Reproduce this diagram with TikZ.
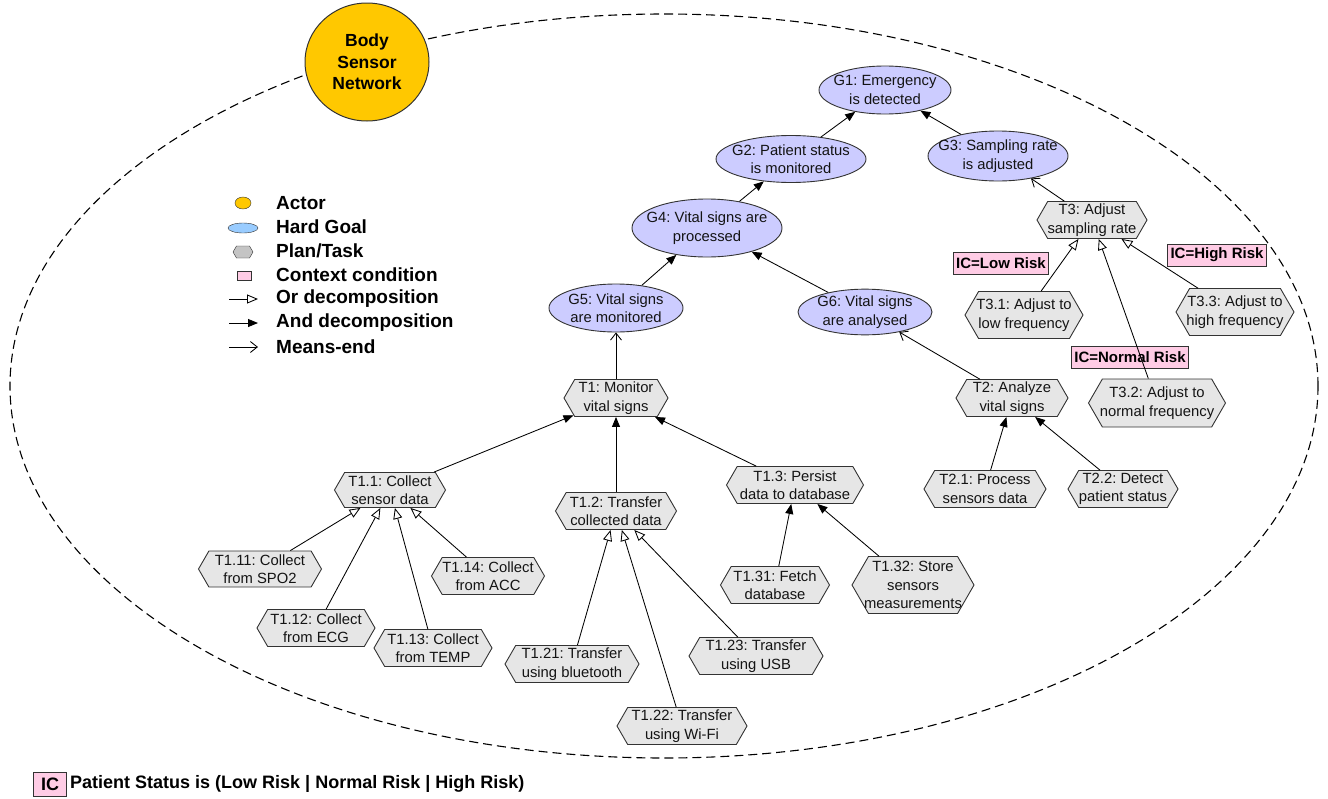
\documentclass[tikz,border=0pt]{standalone}
\usepackage{fontspec}
\setmainfont{Liberation Sans}
\usetikzlibrary{shapes.geometric,shapes.symbols,arrows.meta}
\frenchspacing

\definecolor{actorfill}{HTML}{FFC800}
\definecolor{goalfill}{HTML}{CCCCFF}
\definecolor{goalkey}{HTML}{99CCFF}
\definecolor{taskfill}{HTML}{E6E6E6}
\definecolor{taskkey}{HTML}{C4C4C4}
\definecolor{ctxfill}{HTML}{FFCCE5}
\definecolor{edgegray}{HTML}{333333}

% centred lines that do not widen the node: the shape size is set explicitly
\newcommand{\twoln}[2]{\makebox[0pt]{#1}\\\makebox[0pt]{#2}}
\newcommand{\threeln}[3]{\makebox[0pt]{#1}\\\makebox[0pt]{#2}\\\makebox[0pt]{#3}}

\tikzset{
  lbl/.style={font=\fontsize{14.8}{18.5}\selectfont, align=center, text=black!92},
  goal/.style={lbl, ellipse, draw=edgegray, line width=0.9pt, fill=goalfill, inner sep=0pt},
  task/.style={lbl, signal, signal to=west and east, signal pointer angle=120,
    draw=edgegray, line width=0.9pt, fill=taskfill, inner sep=0pt, minimum height=37pt},
  ctx/.style={font=\bfseries\fontsize{15}{18}\selectfont, draw=edgegray, line width=0.9pt,
    fill=ctxfill, inner xsep=3pt, inner ysep=0pt, minimum height=22pt},
  andlink/.style={draw, line width=0.85pt, -{Triangle[length=10pt,width=8pt]}},
  orlink/.style={draw, line width=0.85pt, -{Triangle[open,length=11pt,width=9pt,fill=white]}},
  meanslink/.style={draw, line width=0.85pt, -{Straight Barb[length=7pt,width=11pt]}},
  keytext/.style={font=\bfseries\fontsize{19}{22}\selectfont, anchor=west, inner sep=0pt},
}

\begin{document}
\begin{tikzpicture}[x=1pt, y=-1pt]
\path[use as bounding box] (0,0) rectangle (1328,798);

% actor boundary
\draw[dashed, dash pattern=on 9pt off 5pt, line width=1.1pt]
  (664,386) ellipse [x radius=654pt, y radius=372pt];

% actor
\node[ellipse, draw=edgegray, line width=1pt, fill=actorfill, inner sep=0pt,
  minimum width=124pt, minimum height=118pt, align=center,
  font=\bfseries\fontsize{17.5}{21.5}\selectfont] (actor) at (367,62)
  {\threeln{Body}{Sensor}{Network}};

% legend
\node[ellipse, draw=edgegray, fill=actorfill, minimum width=16pt, minimum height=12pt, inner sep=0pt] (kactor) at (243,203) {};
\node[keytext] (kactortxt) at (276,203) {Actor};
\node[ellipse, draw=edgegray, fill=goalkey, minimum width=30pt, minimum height=10pt, inner sep=0pt] (kgoal) at (243,228) {};
\node[keytext] (kgoaltxt) at (276,227) {Hard Goal};
\node[signal, signal to=west and east, signal pointer angle=120, draw=edgegray, fill=taskkey,
  minimum width=20pt, minimum height=12pt, inner sep=0pt] (ktask) at (243,252) {};
\node[keytext] (ktasktxt) at (276,251) {Plan/Task};
\node[draw=edgegray, fill=ctxfill, minimum width=14pt, minimum height=9pt, inner sep=0pt] (kctx) at (244,276) {};
\node[keytext] (kctxtxt) at (276,275) {Context condition};
\coordinate (kor1) at (229,299); \coordinate (kor2) at (258,299);
\node[keytext] (kortxt) at (276,299) {Or decomposition};
\coordinate (kand1) at (229,323); \coordinate (kand2) at (258,323);
\node[keytext] (kandtxt) at (276,323) {And decomposition};
\coordinate (kme1) at (229,347); \coordinate (kme2) at (258,347);
\node[keytext] (kmetxt) at (276,347) {Means-end};
\draw[orlink] (kor1) -- (kor2);
\draw[andlink] (kand1) -- (kand2);
\draw[meanslink] (kme1) -- (kme2);

% goals
\node[goal, minimum width=132pt, minimum height=48pt] (g1) at (885,90) {\twoln{G1: Emergency}{is detected}};
\node[goal, minimum width=150pt, minimum height=47pt] (g2) at (791,159) {\twoln{G2: Patient status}{is monitored}};
\node[goal, minimum width=140pt, minimum height=50pt] (g3) at (998,156) {\twoln{G3: Sampling rate}{is adjusted}};
\node[goal, minimum width=150pt, minimum height=58pt] (g4) at (707,228) {\twoln{G4: Vital signs are}{processed}};
\node[goal, minimum width=134pt, minimum height=48pt] (g5) at (616,308) {\twoln{G5: Vital signs}{are monitored}};
\node[goal, minimum width=134pt, minimum height=44pt] (g6) at (865,312) {\twoln{G6: Vital signs}{are analysed}};

% tasks
\node[task, minimum width=104pt] (t1) at (616,398) {\twoln{T1: Monitor}{vital signs}};
\node[task, minimum width=111pt, minimum height=35pt] (t11) at (390,490) {\twoln{T1.1: Collect}{sensor data}};
\node[task, minimum width=121pt] (t12) at (616,511) {\twoln{T1.2: Transfer}{collected data}};
\node[task, minimum width=137pt] (t13) at (795,485) {\twoln{T1.3: Persist}{data to database}};
\node[task, minimum width=123pt, minimum height=36pt] (t111) at (260,569) {\twoln{T1.11: Collect}{from SPO2}};
\node[task, minimum width=118pt] (t112) at (316,628) {\twoln{T1.12: Collect}{from ECG}};
\node[task, minimum width=118pt] (t113) at (433,648) {\twoln{T1.13: Collect}{from TEMP}};
\node[task, minimum width=113pt] (t114) at (488,576) {\twoln{T1.14: Collect}{from ACC}};
\node[task, minimum width=134pt] (t121) at (572,664) {\twoln{T1.21: Transfer}{using bluetooth}};
\node[task, minimum width=130pt] (t122) at (682,726) {\twoln{T1.22: Transfer}{using Wi-Fi}};
\node[task, minimum width=134pt] (t123) at (756,656) {\twoln{T1.23: Transfer}{using USB}};
\node[task, minimum width=109pt] (t131) at (775,585) {\twoln{T1.31: Fetch}{database}};
\node[task, minimum width=122pt, minimum height=57pt] (t132) at (913,585) {\threeln{T1.32: Store}{sensors}{measurements}};
\node[task, minimum width=112pt] (t2) at (1012,398) {\twoln{T2: Analyze}{vital signs}};
\node[task, minimum width=122pt] (t21) at (985,489) {\twoln{T2.1: Process}{sensors data}};
\node[task, minimum width=110pt] (t22) at (1123,489) {\twoln{T2.2: Detect}{patient status}};
\node[task, minimum width=110pt] (t3) at (1092,220) {\twoln{T3: Adjust}{sampling rate}};
\node[task, minimum width=118pt, minimum height=47pt] (t31) at (1024,315) {\twoln{T3.1: Adjust to}{low frequency}};
\node[task, minimum width=137pt, minimum height=48pt] (t32) at (1157,403) {\twoln{T3.2: Adjust to}{normal frequency}};
\node[task, minimum width=118pt, minimum height=47pt] (t33) at (1235,312) {\twoln{T3.3: Adjust to}{high frequency}};

% context conditions
\node[ctx] (iclow) at (1001,263) {IC=Low Risk};
\node[ctx] (ichigh) at (1217,255) {IC=High Risk};
\node[ctx] (icnormal) at (1130,357) {IC=Normal Risk};

% and-decompositions
\draw[andlink] (g2) -- (g1);
\draw[andlink] (g3) -- (g1);
\draw[andlink] (g4) -- (g2);
\draw[andlink] (g5) -- (g4);
\draw[andlink] (g6) -- (g4);
\draw[andlink] (t11) -- (t1);
\draw[andlink] (t12) -- (t1);
\draw[andlink] (t13) -- (t1);
\draw[andlink] (t131) -- (t13);
\draw[andlink] (t132) -- (t13);
\draw[andlink] (t21) -- (t2);
\draw[andlink] (t22) -- (t2);

% or-decompositions
\draw[orlink] (t111) -- (t11);
\draw[orlink] (t112) -- (t11);
\draw[orlink] (t113) -- (t11);
\draw[orlink] (t114) -- (t11);
\draw[orlink] (t121) -- (t12);
\draw[orlink] (t122) -- (t12);
\draw[orlink] (t123) -- (t12);
\draw[orlink] (t31) -- (t3);
\draw[orlink] (t32) -- (t3);
\draw[orlink] (t33) -- (t3);

% means-end links
\draw[meanslink] (t1) -- (g5);
\draw[meanslink] (t2) -- (g6);
\draw[meanslink] (t3) -- (g3);

% context key
\node[draw=edgegray, line width=0.9pt, fill=ctxfill, minimum width=33pt, minimum height=24pt, inner sep=0pt,
  font=\bfseries\fontsize{18}{20}\selectfont] (ickey) at (50,784) {IC};
\node[anchor=west, inner sep=0pt, font=\bfseries\fontsize{18}{20}\selectfont] (ickeytxt) at (70,784)
  {Patient Status is (Low Risk | Normal Risk | High Risk)};
\end{tikzpicture}
\end{document}
